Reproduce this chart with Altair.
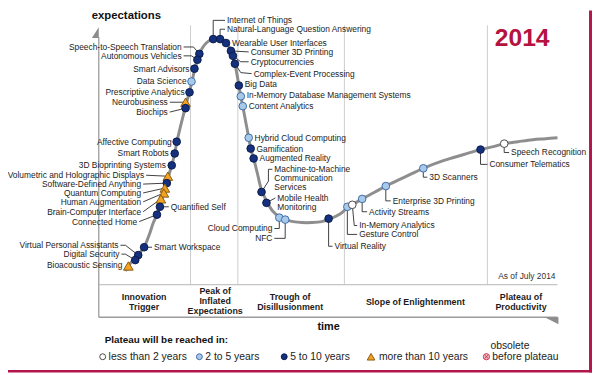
import altair as alt
import pandas as pd

CATS = ["less than 2 years", "2 to 5 years", "5 to 10 years",
        "more than 10 years", "obsolete before plateau"]

# ---------------- technologies on the curve ----------------
names = [
    "Internet of Things", "Natural-Language Question Answering", "Wearable User Interfaces",
    "Consumer 3D Printing", "Cryptocurrencies", "Complex-Event Processing", "Big Data",
    "In-Memory Database Management Systems", "Content Analytics", "Hybrid Cloud Computing",
    "Gamification", "Augmented Reality", "Machine-to-Machine\nCommunication\nServices",
    "Mobile Health\nMonitoring", "Cloud Computing", "NFC", "Virtual Reality", "Gesture Control",
    "In-Memory Analytics", "Activity  Streams", "Enterprise 3D Printing", "3D Scanners",
    "Consumer Telematics", "Speech Recognition",
    "Speech-to-Speech Translation", "Autonomous Vehicles", "Smart Advisors", "Data Science",
    "Prescriptive Analytics", "Neurobusiness", "Biochips", "Affective  Computing",
    "Smart Robots", "3D Bioprinting Systems", "Volumetric and Holographic Displays",
    "Software-Defined Anything", "Quantum Computing", "Human Augmentation",
    "Brain-Computer Interface", "Connected Home", "Quantified Self",
    "Virtual Personal Assistants", "Digital Security", "Bioacoustic Sensing", "Smart Workspace",
]
time_x = [216, 223, 229, 234, 236, 238, 242, 244, 246, 252, 254, 257, 265, 270, 283, 289, 333, 352,
          357, 367, 391, 429, 487, 511,
          202, 200, 197, 194, 192, 188, 188, 179, 177, 174, 170, 169, 167, 166, 163, 159, 162,
          140, 137, 130, 146]
expect_y = [37, 37, 41, 49, 54, 62, 84, 95, 105, 137, 148, 158, 192, 203, 218, 220, 219, 207,
            205, 199, 186, 168, 149, 143,
            52, 58, 67, 80, 91, 101, 107, 141, 153, 165, 176, 183, 188, 193, 199, 215, 207,
            256, 261, 267, 248]
plateau = [2, 2, 2, 2, 2, 2, 2, 1, 1, 1, 2, 2, 2, 2, 1, 1, 2, 1, 0, 1, 1, 1, 2, 0,
           2, 2, 2, 1, 2, 3, 2, 2, 2, 2, 3, 2, 3, 3, 3, 2, 2, 2, 2, 3, 2]
label_x = [230, 230, 235, 254, 254, 257, 248, 250, 252, 258, 260, 263, 278, 281, 276, 276, 339, 364,
           364, 374, 398, 435, 496, 518,
           184, 184, 192, 189, 187, 170, 170, 174, 171, 168, 146, 143, 143, 143, 143, 139, 173,
           120, 121, 124, 156]
label_y = [18, 27, 41, 50, 60, 72, 83, 94, 105, 137, 148, 158, 169, 198, 229, 239, 247, 235,
           226, 212, 201, 177, 164, 152,
           45, 54, 67, 80, 91, 101, 111, 141, 153, 165, 175, 184, 193, 202, 212, 222, 207,
           246, 255, 266, 248]
label_align = (["left"] * 14 + ["right", "right"] + ["left"] * 8 +
               ["right"] * 16 + ["left", "right", "right", "right", "left"])
# leader lines: None = no leader, list = bend points between marker and label
leader_bends = [
    [(216, 18)], [(223, 27)], None, [], [(244, 60)], [(244, 71)], None, None, None, None,
    None, None, [(272, 181), (272, 169)], [], [(283, 229)], [(289, 239)], [(333, 247)],
    [(352, 235)], [(359, 226)], [(367, 212)], [(391, 201)], [(429, 177)], [(487, 164)],
    [(511, 152)],
    [(196, 45)], [(194, 54)], None, None, None, [], [], None, None, None, [], [], [], [], [],
    [], [], [(127, 246)], [(127, 255)], None, [],
]

# ---------------- the hype curve ----------------
curve_x = [127, 130, 134, 137, 140, 143, 146, 149, 152, 155, 159, 162, 165, 167, 169, 171, 174,
           177, 179, 182, 185, 188, 191, 194, 197, 200, 202, 205, 209, 213, 217, 221, 225, 229,
           232, 234, 236, 238, 240, 242, 244, 246, 249, 252, 254, 257, 261, 265, 270, 276, 283,
           289, 297, 306, 316, 326, 335, 345, 352, 357, 367, 380, 391, 410, 429, 450, 470, 487,
           500, 511, 525, 540, 553, 565]
curve_y = [272, 267, 262, 260, 256, 252, 248, 241, 233, 224, 215, 207, 196, 189, 182, 175, 165,
           153, 142, 129, 117, 105, 94, 82, 69, 58, 52, 46, 41, 38, 36.5, 36.5, 38, 41,
           45, 49, 54, 62, 72, 84, 95, 105, 121, 137, 148, 158, 174, 190, 201, 211, 217,
           220, 222, 223, 223, 222, 219, 214, 208, 205, 199, 192, 186, 177, 168, 160, 154, 149,
           146, 143, 141, 139, 138, 137]

# ---------------- phases ----------------
phase_names = ["Innovation\nTrigger", "Peak of\nInflated\nExpectations", "Trough of\nDisillusionment",
               "Slope of Enlightenment", "Plateau of\nProductivity"]
phase_center = [146, 218, 294, 421, 528]
phase_top = [298, 292, 298, 304, 298]
phase_bounds = [193, 241, 349, 494]

# ---------------- legend ----------------
legend_texts = ["less than 2 years", "2 to 5 years", "5 to 10 years", "more than 10 years"]
legend_marker_x = [104, 202, 288, 376]
legend_text_x = [110, 208, 294, 384]

# ---------------- tables ----------------
sizes = {0: 60, 1: 60, 2: 60, 3: 95}
items = pd.DataFrame({
    "x": time_x, "y": expect_y, "cat": [CATS[c] for c in plateau],
    "sz": [sizes[c] for c in plateau],
})

lab_rows = []
lead_rows = []
for i, n in enumerate(names):
    for j, line in enumerate(n.split("\n")):
        lab_rows.append({"t": line, "x": label_x[i], "y": label_y[i] + 9 * j, "a": label_align[i]})
    if leader_bends[i] is not None:
        ex = label_x[i] - 2 if label_align[i] == "left" else label_x[i] + 2
        pts = [(time_x[i], expect_y[i])] + leader_bends[i] + [(ex, label_y[i])]
        for k, (px, py) in enumerate(pts):
            lead_rows.append({"id": i, "k": k, "x": px, "y": py})
labels = pd.DataFrame(lab_rows)
leaders = pd.DataFrame(lead_rows)

curve = pd.DataFrame({"i": range(len(curve_x)), "x": curve_x, "y": curve_y})

ph_rows = []
for n, cx, ty in zip(phase_names, phase_center, phase_top):
    for j, line in enumerate(n.split("\n")):
        ph_rows.append({"t": line, "x": cx, "y": ty + 10.5 * j})
phases = pd.DataFrame(ph_rows)

line_rows = []
for b in phase_bounds:
    line_rows.append({"x": b, "y": 23, "x2": b, "y2": 286, "c": "#cdcdcd", "w": 1})
line_rows += [
    {"x": 100, "y": 35, "x2": 100, "y2": 319, "c": "#a3a3a3", "w": 1.4},
    {"x": 100, "y": 286, "x2": 565, "y2": 286, "c": "#b5b5b5", "w": 1},
    {"x": 100, "y": 319, "x2": 565, "y2": 319, "c": "#9c9c9c", "w": 1.4},
    {"x": 598.5, "y": 8, "x2": 598.5, "y2": 375, "c": "#b3164b", "w": 3},
    {"x": 8, "y": 373.8, "x2": 600, "y2": 373.8, "c": "#b3164b", "w": 2.5},
]
lines = pd.DataFrame(line_rows)

arrows = pd.DataFrame({
    "x": [94.5, 559], "y": [30.5, 326],
    "s": ["M1,-1L1,1L-0.27,1Z", "M-1,-1L1,-1L1,0Z"], "sz": [121, 196],
})

leg_pts = pd.DataFrame({
    "x": legend_marker_x + [493], "y": [359] * 5, "cat": CATS,
    "sz": [36, 36, 36, 60, 40],
})
leg_txt = pd.DataFrame({"t": legend_texts + ["obsolete", "before plateau"],
                        "x": legend_text_x + [497, 499], "y": [359] * 4 + [348, 359]})

# ---------------- encodings ----------------
xs = alt.Scale(domain=[8, 600], nice=False, zero=False)
ys = alt.Scale(domain=[8, 375], nice=False, zero=False, reverse=True)
X = alt.X("x:Q", scale=xs, axis=None)
Y = alt.Y("y:Q", scale=ys, axis=None)
FONT = "Liberation Sans"

shape_s = alt.Scale(domain=CATS, range=["circle", "circle", "circle", "triangle-up", "circle"])
fill_s = alt.Scale(domain=CATS, range=["#ffffff", "#a9c9ea", "#15307c", "#f3a322", "#f4b9c4"])
stroke_s = alt.Scale(domain=CATS, range=["#4a4a4a", "#3f6ea8", "#0a1b4d", "#8a5a12", "#cc3a55"])


def markers(df):
    return alt.Chart(df).mark_point(filled=True, opacity=1, strokeWidth=1).encode(
        x=X, y=Y,
        shape=alt.Shape("cat:N", scale=shape_s, legend=None),
        fill=alt.Fill("cat:N", scale=fill_s, legend=None),
        stroke=alt.Stroke("cat:N", scale=stroke_s, legend=None),
        size=alt.Size("sz:Q", scale=None),
    )


def text_layer(df, **kw):
    return alt.Chart(df).mark_text(font=FONT, baseline="middle", **kw).encode(x=X, y=Y, text="t:N")


rules = alt.Chart(lines).mark_rule().encode(
    x=X, y=Y, x2="x2:Q", y2="y2:Q",
    color=alt.Color("c:N", scale=None), strokeWidth=alt.StrokeWidth("w:Q", scale=None))

arrow_layer = alt.Chart(arrows).mark_point(filled=True, opacity=1, color="#8c8c8c").encode(
    x=X, y=Y, shape=alt.Shape("s:N", scale=None), size=alt.Size("sz:Q", scale=None))

curve_layer = alt.Chart(curve).mark_line(interpolate="catmull-rom", color="#8e8e8e",
                                         strokeWidth=3).encode(x=X, y=Y, order="i:Q")

leader_layer = alt.Chart(leaders).mark_line(color="#2a2a2a", strokeWidth=0.9).encode(
    x=X, y=Y, detail="id:N", order="k:Q")

lab_left = text_layer(labels[labels.a == "left"], align="left", fontSize=8.5, color="#1c1c1c")
lab_right = text_layer(labels[labels.a == "right"], align="right", fontSize=8.5, color="#1c1c1c")
phase_layer = text_layer(phases, align="center", fontSize=9, fontWeight="bold", color="#1c1c1c")

misc = [
    text_layer(pd.DataFrame({"t": ["expectations"], "x": [128], "y": [14]}),
               align="center", fontSize=11.5, fontWeight="bold", color="#111111"),
    text_layer(pd.DataFrame({"t": ["2014"], "x": [557], "y": [36]}),
               align="right", fontSize=25, fontWeight="bold", color="#b5123f"),
    text_layer(pd.DataFrame({"t": ["As of July 2014"], "x": [563], "y": [277]}),
               align="right", fontSize=8.5, color="#333333"),
    text_layer(pd.DataFrame({"t": ["time"], "x": [333], "y": [329]}),
               align="center", fontSize=11, fontWeight="bold", color="#111111"),
    text_layer(pd.DataFrame({"t": ["Plateau will be reached in:"], "x": [106], "y": [342]}),
               align="left", fontSize=10, fontWeight="bold", color="#111111"),
    text_layer(leg_txt, align="left", fontSize=10.5, color="#222222"),
]

cross = alt.Chart(pd.DataFrame({"x": [493], "y": [359]})).mark_point(
    shape="M-0.55,-0.55L0.55,0.55M-0.55,0.55L0.55,-0.55", size=40, stroke="#cc3a55",
    strokeWidth=1, fill=None, opacity=1).encode(x=X, y=Y)

chart = alt.layer(
    rules, arrow_layer, curve_layer, leader_layer, markers(items),
    lab_left, lab_right, phase_layer, *misc, markers(leg_pts), cross,
).properties(
    width=592, height=367, padding=0, background="white",
    autosize=alt.AutoSizeParams(type="none"),
).configure_view(stroke=None)

chart.save("out.html", embed_options={"renderer": "svg", "actions": False})
